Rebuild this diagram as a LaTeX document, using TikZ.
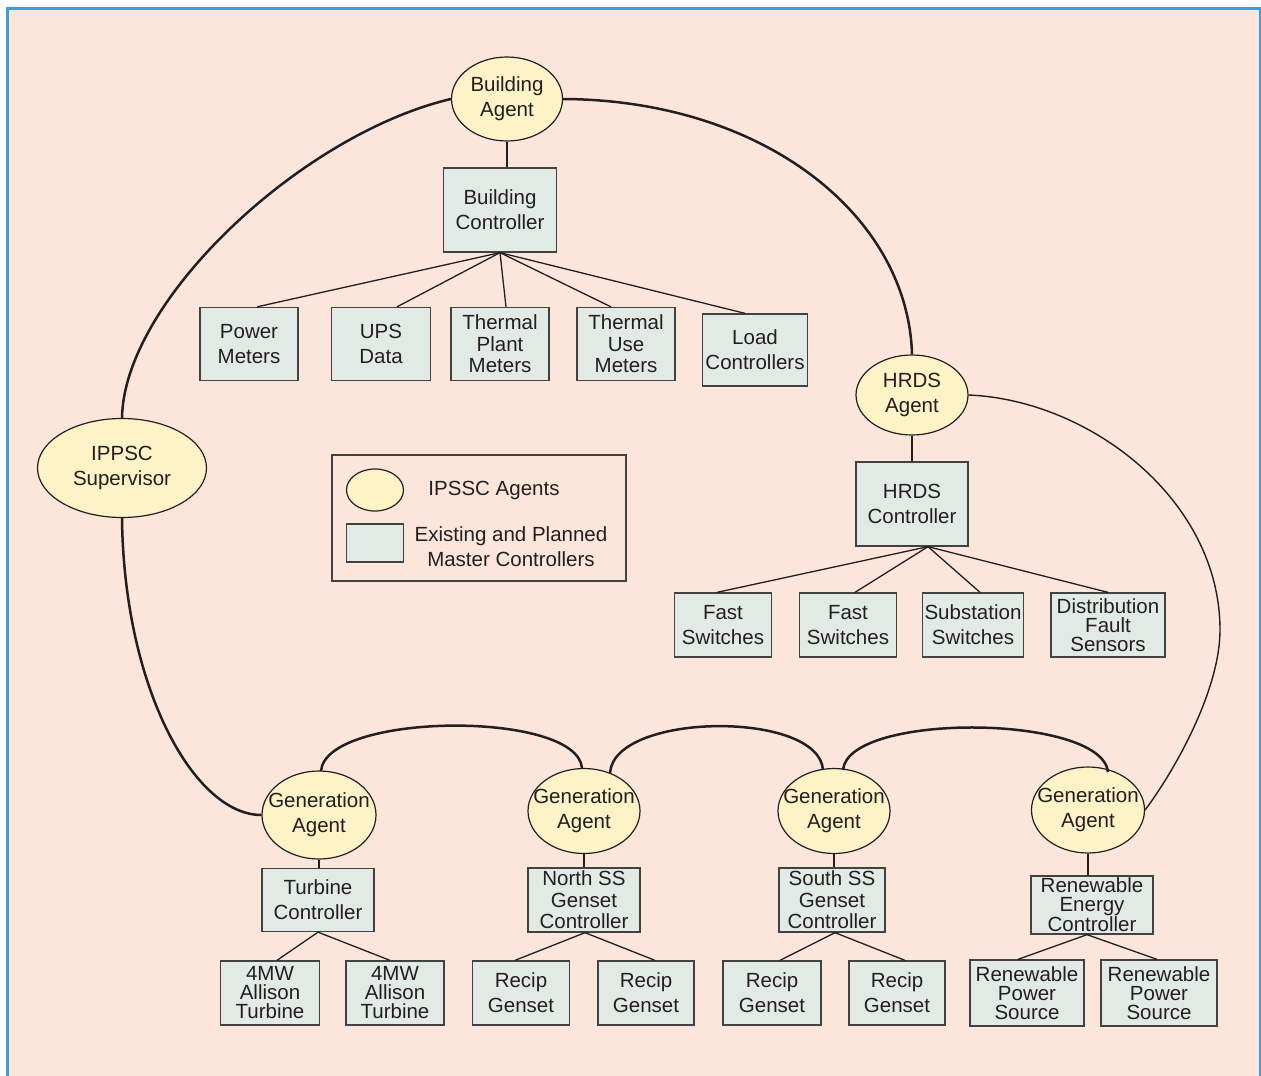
\documentclass[tikz,border=0pt]{standalone}
\usepackage{fontspec}
\setmainfont{Liberation Sans}
\usetikzlibrary{shapes.geometric,calc}
\definecolor{pinkbg}{HTML}{FCE6DC}
\definecolor{agentfill}{HTML}{FEF2C7}
\definecolor{boxfill}{HTML}{E2EAE6}
\definecolor{framblue}{HTML}{3D9DD4}
\definecolor{ink}{HTML}{231F20}
\begin{document}
\begin{tikzpicture}[x=1pt,y=-1pt,
  every node/.style={text=ink},
  agent/.style={ellipse,draw=ink,line width=1.2pt,fill=agentfill,inner sep=0pt},
  ctrl/.style={rectangle,draw=ink!85,line width=1.3pt,fill=boxfill,inner sep=0pt,align=center,
    font=\fontsize{20.5}{25}\selectfont},
  sz/.style 2 args={minimum width=#1pt,minimum height=#2pt},
  tightA/.style={font=\fontsize{20.5}{21.5}\selectfont},
  tightB/.style={font=\fontsize{20.5}{19}\selectfont},
  tree/.style={draw=ink,line width=1.3pt},
  link/.style={draw=ink,line width=2.5pt},
  thinlink/.style={draw=ink,line width=1.4pt},
  lbl/.style={align=center,font=\fontsize{20.5}{25}\selectfont,inner sep=0pt}]
\useasboundingbox (0,0) rectangle (1261,1076);
\fill[white] (0,0) rectangle (1261,1076);
\path[fill=pinkbg,draw=framblue,line width=3pt] (7,8) rectangle (1260,1090);

% agents
\node[agent,sz={111}{84}] (ba) at (507,99) {};
\node[lbl] (bat) at (ba) {Building\\Agent};
\node[agent,sz={169}{99}] (ipp) at (122,468) {};
\node[lbl] (ippt) at (ipp) {IPPSC\\Supervisor};
\node[agent,sz={112}{80}] (hra) at (912,395) {};
\node[lbl] (hrat) at (hra) {HRDS\\Agent};
\node[agent,sz={114}{88}] (g1) at (319,815) {};
\node[lbl] (g1t) at (g1) {Generation\\Agent};
\node[agent,sz={112}{85}] (g2) at (584,811) {};
\node[lbl] (g2t) at (g2) {Generation\\Agent};
\node[agent,sz={112}{85}] (g3) at (834,811) {};
\node[lbl] (g3t) at (g3) {Generation\\Agent};
\node[agent,sz={113}{86}] (g4) at (1088,810) {};
\node[lbl] (g4t) at (g4) {Generation\\Agent};

% controllers
\node[ctrl,sz={113}{84}] (bc) at (500,210) {Building\\Controller};
\node[ctrl,sz={98}{73}] (pm) at (249,344) {Power\\Meters};
\node[ctrl,sz={99}{73}] (ups) at (381,344) {UPS\\Data};
\node[ctrl,sz={98}{73},tightA] (tpm) at (500,344) {Thermal\\Plant\\Meters};
\node[ctrl,sz={98}{73},tightA] (tum) at (626,344) {Thermal\\Use\\Meters};
\node[ctrl,sz={105}{72}] (lc) at (755,350) {Load\\Controllers};

\node[ctrl,sz={112}{84}] (hc) at (912,504) {HRDS\\Controller};
\node[ctrl,sz={97}{64}] (fs1) at (723,625) {Fast\\Switches};
\node[ctrl,sz={97}{64}] (fs2) at (848,625) {Fast\\Switches};
\node[ctrl,sz={101}{64}] (ss) at (973,625) {Substation\\Switches};
\node[ctrl,sz={114}{64},tightB] (dfs) at (1108,625) {Distribution\\Fault\\Sensors};

\node[ctrl,sz={112}{63}] (tc) at (318,900) {Turbine\\Controller};
\node[ctrl,sz={112}{64},tightA] (nc) at (584,900) {North SS\\Genset\\Controller};
\node[ctrl,sz={106}{64},tightA] (sc) at (832,900) {South SS\\Genset\\Controller};
\node[ctrl,sz={122}{58},tightB] (rec) at (1092,905) {Renewable\\Energy\\Controller};

\node[ctrl,sz={99}{64},tightB] (at1) at (270,993) {4MW\\Allison\\Turbine};
\node[ctrl,sz={98}{64},tightB] (at2) at (395,993) {4MW\\Allison\\Turbine};
\node[ctrl,sz={97}{64}] (rg1) at (521,993) {Recip\\Genset};
\node[ctrl,sz={96}{64}] (rg2) at (646,993) {Recip\\Genset};
\node[ctrl,sz={98}{64}] (rg3) at (772,993) {Recip\\Genset};
\node[ctrl,sz={96}{64}] (rg4) at (897,993) {Recip\\Genset};
\node[ctrl,sz={114}{66},tightB] (rps1) at (1027,993) {Renewable\\Power\\Source};
\node[ctrl,sz={116}{66},tightB] (rps2) at (1159,993) {Renewable\\Power\\Source};

% legend
\node[draw=ink!85,line width=1.3pt,inner sep=0pt,minimum width=294pt,minimum height=126pt] (leg) at (479,518) {};
\node[agent,sz={57}{42}] (lega) at (375,490) {};
\node[ctrl,sz={57}{38}] (legc) at (375,543) {};
\node[lbl] (legat) at (494,490) {IPSSC Agents};
\node[lbl] (legct) at (511,547) {Existing and Planned\\Master Controllers};

% agent -- controller verticals
\foreach \a/\c in {ba/bc,hra/hc,g1/tc,g2/nc,g3/sc,g4/rec}
  \draw[tree] (\a.south) -- (\a.south |- \c.north);

% trees
\coordinate (bcj) at ($(bc.south)$);
\draw[tree] (bcj) -- ($(pm.north)+(8,0)$);
\draw[tree] (bcj) -- ($(ups.north)+(16,0)$);
\draw[tree] (bcj) -- ($(tpm.north)+(6,0)$);
\draw[tree] (bcj) -- ($(tum.north)+(-15,0)$);
\draw[tree] (bcj) -- ($(lc.north)+(-10,0)$);

\coordinate (hcj) at ($(hc.south)+(16,0)$);
\draw[tree] (hcj) -- ($(fs1.north)+(-6,0)$);
\draw[tree] (hcj) -- ($(fs2.north)+(7,0)$);
\draw[tree] (hcj) -- ($(ss.north)+(7,0)$);
\draw[tree] (hcj) -- (dfs.north);

\coordinate (tcj) at ($(tc.south)$);
\draw[tree] (tcj) -- ($(at1.north)+(7,0)$);
\draw[tree] (tcj) -- ($(at2.north)+(-5,0)$);
\coordinate (ncj) at ($(nc.south)+(1,0)$);
\draw[tree] (ncj) -- ($(rg1.north)+(-6,0)$);
\draw[tree] (ncj) -- ($(rg2.north)+(9,0)$);
\coordinate (scj) at ($(sc.south)+(3,0)$);
\draw[tree] (scj) -- ($(rg3.north)+(8,0)$);
\draw[tree] (scj) -- ($(rg4.north)+(8,0)$);
\coordinate (recj) at ($(rec.south)+(-5,0)$);
\draw[tree] (recj) -- ($(rps1.north)+(-9,0)$);
\draw[tree] (recj) -- ($(rps2.north)+(-2,0)$);

% main links
\draw[link] (ba.west) .. controls (302,134) and (124,300) .. (ipp.north);
\draw[link] (ba.east) .. controls (763,100) and (908,215) .. (hra.north);
\draw[link] (ipp.south) .. controls (124,690) and (195,815) .. (g1.west);
\coordinate (a1s) at (321,771);
\coordinate (a1e) at (582,768);
\coordinate (a2s) at (610,773);
\coordinate (a2e) at (823,770);
\coordinate (a3s) at (843,770);
\coordinate (a3e) at (1108,772);
\draw[link] (a1s) .. controls (326,712) and (577,710) .. (a1e);
\draw[link] (a2s) .. controls (614,712) and (819,710) .. (a2e);
\draw[link] (a3s) .. controls (848,712) and (1102,714) .. (a3e);
\coordinate (thm) at (1220,630);
\draw[thinlink] (hra.east) .. controls (1090,400) and (1220,500) .. (thm)
  .. controls (1220,690) and (1175,770) .. (g4.east);
\end{tikzpicture}
\end{document}
